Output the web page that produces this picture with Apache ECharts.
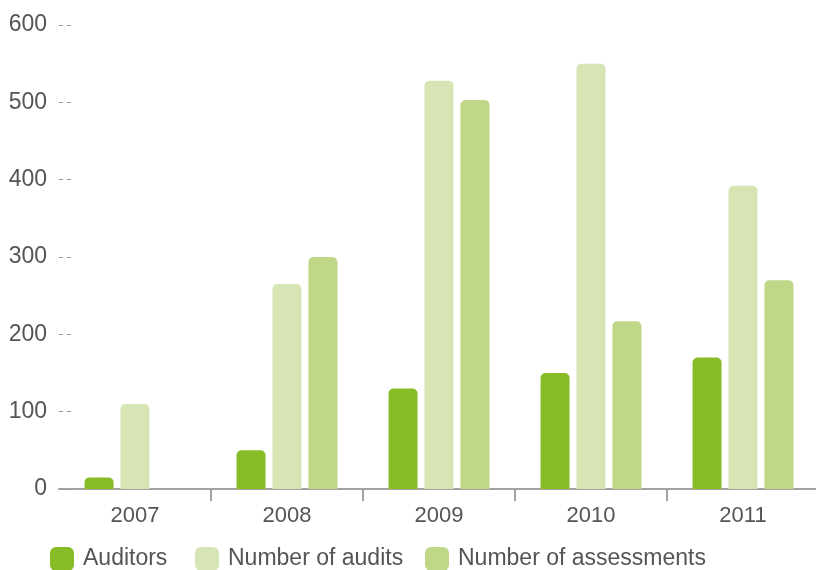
<!DOCTYPE html>
<html>
<head>
<meta charset="utf-8">
<style>
  html, body { margin: 0; padding: 0; background: #fff; }
  #chart { width: 816px; height: 570px; }
</style>
<script src="https://cdn.jsdelivr.net/npm/echarts@6/dist/echarts.min.js"></script>
</head>
<body>
<div id="chart"></div>
<script>
// Yearly figures
const years = ['2007', '2008', '2009', '2010', '2011'];
const auditors = [15, 50, 130, 150, 170];
const audits = [110, 265, 528, 550, 392];
const assessments = [0, 300, 503, 217, 270];

const seriesNames = ['Auditors', 'Number of audits', 'Number of assessments'];
const seriesColors = ['#88bc27', '#d7e5b5', '#bfd887'];

const font = "'Liberation Sans', Arial, sans-serif";
const textColor = '#555555';
const axisGray = '#a3a3a3';

const chart = echarts.init(document.getElementById('chart'));

function barSeries(name, values, color) {
  return {
    name: name,
    type: 'bar',
    data: values,
    barWidth: 29,
    barGap: '24%',
    itemStyle: { color: color, borderRadius: [5, 5, 0, 0] },
    emphasis: { disabled: true }
  };
}

// one legend entry per component so each can be placed on its own
const legendLefts = [50, 195, 425];
function legendEntry(name, left) {
  return {
    left: left,
    top: 547,
    padding: 0,
    itemWidth: 24,
    itemHeight: 24,
    icon: 'roundRect',
    textStyle: { fontFamily: font, fontSize: 23, color: textColor, padding: [3, 0, 0, 4] },
    data: [name]
  };
}

chart.setOption({
  animation: false,
  textStyle: { fontFamily: font },
  // plot area runs slightly past the right edge of the canvas
  grid: { left: 59, top: 25, width: 760, height: 464, outerBoundsMode: 'none' },
  legend: seriesNames.map(function (n, i) { return legendEntry(n, legendLefts[i]); }),
  xAxis: {
    type: 'category',
    data: years,
    axisLine: { lineStyle: { color: axisGray, width: 2 } },
    axisTick: {
      show: true,
      length: 12,
      interval: function (index) { return index > 0; },
      lineStyle: { color: axisGray, width: 2 }
    },
    axisLabel: { fontFamily: font, fontSize: 22, color: textColor, margin: 16 }
  },
  yAxis: {
    type: 'value',
    min: 0,
    max: 600,
    interval: 100,
    axisLine: { show: false },
    axisTick: {
      show: true,
      inside: true,
      length: 12,
      lineStyle: { color: '#999999', width: 1, type: [4, 4] }
    },
    splitLine: { show: false },
    axisLabel: { fontFamily: font, fontSize: 23, color: textColor, margin: 12 }
  },
  series: [
    barSeries(seriesNames[0], auditors, seriesColors[0]),
    barSeries(seriesNames[1], audits, seriesColors[1]),
    barSeries(seriesNames[2], assessments, seriesColors[2])
  ]
});
</script>
</body>
</html>
